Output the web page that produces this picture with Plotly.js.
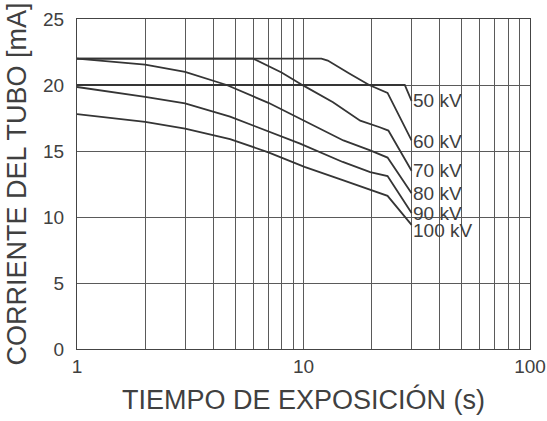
<!DOCTYPE html>
<html>
<head>
<meta charset="utf-8">
<script src="https://cdn.plot.ly/plotly-3.0.1.min.js"></script>
<style>html,body{margin:0;padding:0;background:#fff;}#chart{width:547px;height:421px;}</style>
</head>
<body>
<div id="chart"></div>
<script>
// Series data (exposure time s, tube current mA)
const x50 = [1, 28, 30];
const y50 = [20, 20, 18.8];
const x60 = [1, 12, 12.8, 13.5, 16, 19.5, 22, 23.5, 30];
const y60 = [22, 22, 21.85, 21.6, 20.85, 20, 19.6, 19.4, 15.8];
const x70 = [1, 6, 8, 10, 13.5, 17.8, 21.7, 23.7, 30];
const y70 = [22, 22, 20.95, 19.95, 18.7, 17.3, 16.8, 16.55, 13.5];
const x80 = [1, 2, 3, 4.58, 7, 9.66, 15, 19.7, 23.5, 30];
const y80 = [22, 21.55, 21, 20, 18.65, 17.45, 15.8, 15.05, 14.5, 11.8];
const x90 = [1, 2, 3, 4.74, 9.66, 14.9, 19.7, 23.5, 30];
const y90 = [19.85, 19.1, 18.6, 17.6, 15.56, 14.17, 13.4, 13.1, 10.3];
const x100 = [1, 2, 3, 4.74, 7, 10.1, 14.9, 19.7, 23.5, 30];
const y100 = [17.8, 17.2, 16.7, 15.9, 14.9, 13.8, 12.8, 12.03, 11.6, 9.4];

const seriesNames = ['50 kV', '60 kV', '70 kV', '80 kV', '90 kV', '100 kV'];
const labelY = [18.8, 15.7, 13.5, 11.8, 10.3, 9.0];
const labelX = 30;

const xTickVals = [1,2,3,4,5,6,7,8,9,10,20,30,40,50,60,70,80,90,100];
const xTickText = ['1','','','','','','','','','10','','','','','','','','','100'];
const yTickVals = [0, 5, 10, 15, 20, 25];

const xs = [x50, x60, x70, x80, x90, x100];
const ys = [y50, y60, y70, y80, y90, y100];

const lineColor = '#353535';
const textColor = '#404040';
const fontFam = '"Liberation Sans", Arial, sans-serif';

const traces = xs.map((xv, i) => ({
  x: xv, y: ys[i], type: 'scatter', mode: 'lines',
  name: seriesNames[i],
  line: {color: lineColor, width: 1.8},
  hoverinfo: 'skip'
}));

const annotations = seriesNames.map((n, i) => ({
  x: Math.log10(labelX), y: labelY[i], xref: 'x', yref: 'y',
  text: n, showarrow: false, xanchor: 'left', yanchor: 'middle',
  xshift: -1, font: {family: fontFam, size: 19, color: textColor}
}));

const layout = {
  width: 547, height: 421,
  margin: {l: 77, r: 17, t: 19, b: 72},
  paper_bgcolor: '#fff', plot_bgcolor: '#fff',
  showlegend: false,
  font: {family: fontFam, color: textColor},
  xaxis: {
    type: 'log', range: [0, 2],
    tickmode: 'array', tickvals: xTickVals, ticktext: xTickText,
    showgrid: true, gridcolor: '#5a5a5a', gridwidth: 1,
    showline: true, linecolor: '#444', linewidth: 1, mirror: true,
    ticks: '', zeroline: false,
    tickfont: {size: 19, color: textColor},
    title: {text: 'TIEMPO DE EXPOSICIÓN (s)', font: {size: 27, color: textColor}, standoff: 14}
  },
  yaxis: {
    range: [0, 25],
    tickmode: 'array', tickvals: yTickVals,
    showgrid: true, gridcolor: '#5a5a5a', gridwidth: 1,
    showline: true, linecolor: '#444', linewidth: 1, mirror: true,
    ticks: '', zeroline: false,
    tickfont: {size: 19, color: textColor},
    ticklabelstandoff: 8,
    title: {text: 'CORRIENTE DEL TUBO [mA]', font: {size: 27, color: textColor}, standoff: 8}
  },
  annotations: annotations
};

Plotly.newPlot('chart', traces, layout, {displayModeBar: false, staticPlot: true});
</script>
</body>
</html>
